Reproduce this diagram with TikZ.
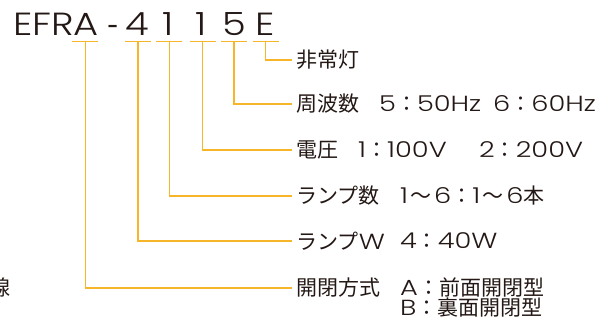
\documentclass[tikz,border=0pt]{standalone}
\usepackage{fontspec}
\setmainfont{Noto Sans CJK JP}
\IfFontExistsTF{Poppins Light}
  {\newfontfamily\latinfont{Poppins Light}[FakeStretch=1.25, Scale=1.04]
   \newfontfamily\titlefont{Poppins Light}[FakeStretch=1.2]}
  {\newfontfamily\latinfont{Poppins}[FakeStretch=1.25, Scale=1.04]
   \newfontfamily\titlefont{Poppins}[FakeStretch=1.2]}
\newcommand{\lat}[1]{{\latinfont #1}}
\newcommand{\wave}{\hspace{2.5pt}～\hspace{2.5pt}}
\usetikzlibrary{positioning}
\definecolor{leadorange}{RGB}{247,181,41}
\definecolor{inkgray}{RGB}{35,24,21}
\tikzset{
  leader/.style={draw=leadorange, line width=1.4pt},
  codechar/.style={anchor=base, inner sep=0pt, font=\titlefont\fontsize{32}{32}\selectfont},
  itemtext/.style={anchor=west, inner sep=0pt, font=\fontsize{21}{21}\selectfont},
  itemhead/.style={itemtext, inner xsep=4.5pt},
}

\begin{document}
\begin{tikzpicture}[x=1pt, y=-1pt, text=inkgray]
    \useasboundingbox (0,0) rectangle (612,322);

    % model number
    \node[codechar, anchor=base west] (cEFRA) at (13,35) {EFRA};
    \node[codechar, font=\fontsize{32}{32}\selectfont] (cdash) at (113.5,35) {-};
    \node[codechar] (c4)  at (137,35) {4};
    \node[codechar] (c1a) at (168,35) {1};
    \node[codechar] (c1b) at (201,35) {1};
    \node[codechar] (c5)  at (234,35) {5};
    \node[codechar] (cE)  at (265,35) {E};

    % item names
    \node[itemhead] (hLight) at (291.7,60)  {非常灯};
    \node[itemhead] (hFreq)  at (291.7,104) {周波数};
    \node[itemhead] (hVolt)  at (291.7,150) {電圧};
    \node[itemhead] (hNum)   at (291.7,196) {ランプ数};
    \node[itemhead] (hWatt)  at (291.7,241) {ランプ\lat{W}};
    \node[itemhead] (hOpen)  at (291.7,288) {開閉方式};

    % item values
    \node[itemtext] (vFreqA) at (379,104) {\lat{5}：\lat{50Hz}};
    \node[itemtext] (vFreqB) at (493,104) {\lat{6}：\lat{60Hz}};
    \node[itemtext] (vVoltA) at (358,150) {\lat{1}：\lat{100V}};
    \node[itemtext] (vVoltB) at (479,150) {\lat{2}：\lat{200V}};
    \node[itemtext] (vNum)   at (400,196) {\lat{1}\wave\lat{6}：\lat{1}\wave\lat{6}本};
    \node[itemtext] (vWatt)  at (400,241) {\lat{4}：\lat{40W}};
    \node[itemtext] (vOpenA) at (400,287) {\lat{A}：前面開閉型};
    \node[itemtext] (vOpenB) at ([yshift=-21pt]vOpenA.west) {\lat{B}：裏面開閉型};

    % cut off text at the left edge
    \node[itemtext, anchor=east] (cutoff) at (11,288) {線};

    % bars and leaders
    \foreach \bar/\x/\item in {A/85.3/hOpen, 4/138/hWatt, 1a/169.3/hNum,
                               1b/202.7/hVolt, 5/234/hFreq, E/265.7/hLight} {
        \coordinate (b\bar) at (\x,41.7);
        \draw[leader] ([xshift=-13pt]b\bar) -- ([xshift=13pt]b\bar);
        \draw[leader] (b\bar) |- (\item.west);
    }
\end{tikzpicture}
\end{document}
